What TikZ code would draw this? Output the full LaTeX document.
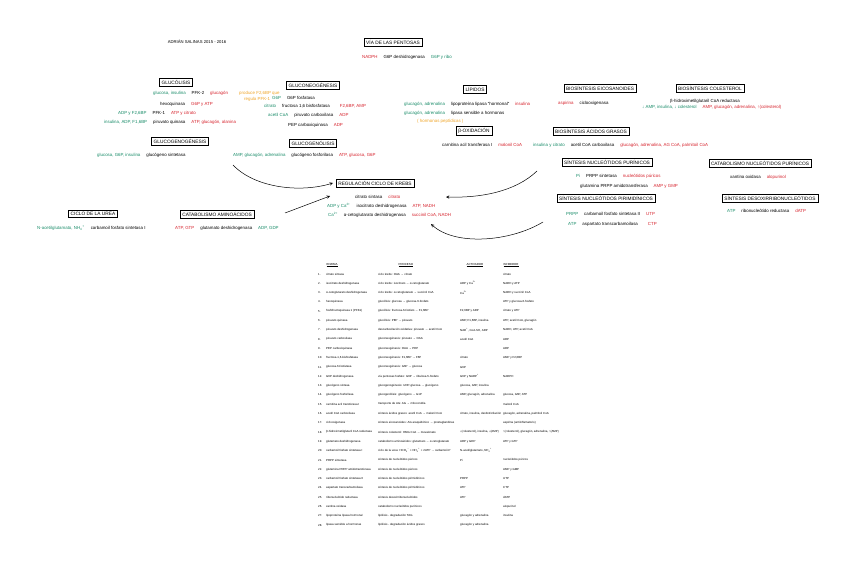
\documentclass[tikz,border=0pt]{standalone}
\usepackage{fontspec}
\setmainfont{Liberation Sans}
\definecolor{gr}{RGB}{25,140,105}
\definecolor{rd}{RGB}{215,35,45}
\definecolor{orng}{RGB}{240,165,40}
\newcommand\tgr[1]{\textcolor{gr}{#1}}
\newcommand\trd[1]{\textcolor{rd}{#1}}
\newcommand\tor[1]{\textcolor{orng}{#1}}
\newcommand\sep{\hspace{6pt}}
\newcommand\trow[5]{%
 \node[tb] (n#1) at (318,{274+9.3*(#1-1)}) {#1.};
 \node[tb] (e#1) at (326,{274+9.3*(#1-1)}) {#2};
 \node[tb] (p#1) at (378,{274+9.3*(#1-1)}) {#3};
 \node[tb] (a#1) at (460,{274+9.3*(#1-1)}) {#4};
 \node[tb] (i#1) at (503,{274+9.3*(#1-1)}) {#5};
}
\begin{document}
\begin{tikzpicture}[x=1pt,y=-1pt,>=stealth,
  box/.style={draw,line width=0.6pt,inner xsep=2.2pt,inner ysep=1.8pt,font=\fontsize{4.8}{5.5}\selectfont},
  row/.style={font=\fontsize{4.4}{5}\selectfont,inner sep=0pt,anchor=west},
  tb/.style={font=\fontsize{2.9}{3.3}\selectfont,inner sep=0pt,anchor=west},
  th/.style={font=\fontsize{2.9}{3.3}\selectfont,inner sep=0.4pt,anchor=west},
  arr/.style={->,line width=0.5pt}]
\fill[white] (0,0) rectangle (848,568);
\useasboundingbox (0,0) rectangle (848,568);

% header
\node[font=\fontsize{4.2}{5}\selectfont,inner sep=0] (author) at (197,42) {ADRIÁN SALINAS 2015 - 2016};
\node[box] (pent) at (393,42) {VÍA DE LAS PENTOSAS};
\node[row] (pent1) at (362,57) {\trd{NADPH}\sep G6P deshidrogenasa\sep\tgr{G6P y ribo}};

% glucolisis
\node[box] (glc) at (176,82) {GLUCÓLISIS};
\node[row] (glc1) at (153,93) {\tgr{glucosa, insulina}\sep PFK-2\sep\trd{glucagón}};
\node[row] (glc1a) at (239,93) {\tor{produce F2,6BP que}};
\node[row] (glc1b) at (244,99) {\tor{regula PFK-1}};
\node[row] (glc2) at (160,104) {hexoquinasa\sep\trd{G6P y ATP}};
\node[row] (glc3) at (118,113) {\tgr{ADP y F2,6BP}\sep PFK-1\sep\trd{ATP y citrato}};
\node[row] (glc4) at (104,122) {\tgr{insulina, ADP, F1,6BP}\sep piruvato quinasa\sep\trd{ATP, glucagón, alanina}};

% gluconeogenesis
\node[box] (gng) at (313,85) {GLUCONEOGÉNESIS};
\node[row] (gng1) at (272,98) {\tgr{G6P}\sep G6P fosfatasa};
\node[row] (gng2) at (264,106) {\tgr{citrato}\sep fructosa 1,6 bisfosfatasa\hspace{10pt}\trd{F2,6BP, AMP}};
\node[row] (gng3) at (268,115) {\tgr{acetil CoA}\sep piruvato carboxilasa\sep\trd{ADP}};
\node[row] (gng4) at (288,125) {PEP carboxiquinasa\sep\trd{ADP}};

% lipidos
\node[box] (lip) at (475,89) {LÍPIDOS};
\node[row] (lip1) at (404,104) {\tgr{glucagón, adrenalina}\sep lipoproteína lipasa ``hormonal''\sep\trd{insulina}};
\node[row] (lip2) at (404,113) {\tgr{glucagón, adrenalina}\sep lipasa sensible a hormonas};
\node[row] (lip3) at (417,121) {\tor{( hormonas peptídicas )}};
\node[box] (box) at (474,131) {β-OXIDACIÓN};
\node[row] (box1) at (442,145) {carnitina acil transferasa I\sep\trd{malonil CoA}};

% biosintesis
\node[box] (eic) at (600,88) {BIOSÍNTESIS EICOSANOIDES};
\node[row] (eic1) at (558,103) {\trd{aspirina}\sep ciclooxigenasa};
\node[box] (col) at (710,88) {BIOSÍNTESIS COLESTEROL};
\node[row] (col1) at (670,101) {β-hidroximetilglutaril CoA reductasa};
\node[row] (col2) at (642,107) {\tgr{↓ AMP, insulina, ↓ colesterol}\sep\trd{AMP, glucagón, adrenalina, ↑(colesterol)}};
\node[box] (agr) at (591,131) {BIOSÍNTESIS ÁCIDOS GRASOS};
\node[row] (agr1) at (533,145) {\tgr{insulina y citrato}\sep acetil CoA carboxilasa\sep\trd{glucagón, adrenalina, AG CoA, palmitoil CoA}};

% nucleotidos
\node[box] (pur) at (607,162) {SÍNTESIS NUCLEÓTIDOS PURÍNICOS};
\node[row] (pur1) at (576,176) {\tgr{Pi}\sep PRPP sintetasa\sep\trd{nucleótidos púricos}};
\node[row] (pur2) at (580,186) {glutamina PRPP amidotransferasa\sep\trd{AMP y GMP}};
\node[box] (pir) at (606,198) {SÍNTESIS NUCLEÓTIDOS PIRIMIDÍNICOS};
\node[row] (pir1) at (566,214) {\tgr{PRPP}\sep carbamoil fosfato sintetasa II\sep\trd{UTP}};
\node[row] (pir2) at (568,224) {\tgr{ATP}\sep aspartato transcarbamoilasa\hspace{10pt}\trd{CTP}};
\node[box] (cat) at (760,163) {CATABOLISMO NUCLEÓTIDOS PURÍNICOS};
\node[row] (cat1) at (730,177) {xantina oxidasa\sep\trd{alopurinol}};
\node[box] (des) at (770,198) {SÍNTESIS DESOXIRRIBONUCLEÓTIDOS};
\node[row] (des1) at (727,211) {\tgr{ATP}\sep ribonucleótido reductasa\sep\trd{dATP}};

% glucogeno
\node[box] (ggn) at (180,141) {GLUCOGENOGÉNESIS};
\node[row] (ggn1) at (97,155) {\tgr{glucosa, G6P, insulina}\sep glucógeno sintetasa};
\node[box] (ggl) at (313,143) {GLUCOGENÓLISIS};
\node[row] (ggl1) at (233,155) {\tgr{AMP, glucagón, adrenalina}\sep glucógeno fosforilasa\sep\trd{ATP, glucosa, G6P}};

% krebs
\node[box] (kre) at (375,183) {REGULACIÓN CICLO DE KREBS};
\node[row] (kre1) at (355,197) {citrato sintasa\sep\trd{citrato}};
\node[row] (kre2) at (327,206) {\tgr{ADP y Ca\textsuperscript{2+}}\sep isocitrato deshidrogenasa\sep\trd{ATP, NADH}};
\node[row] (kre3) at (328,215) {\tgr{Ca\textsuperscript{2+}}\sep α-cetoglutarato deshidrogenasa\sep\trd{succinil CoA, NADH}};

% urea, aminoacidos
\node[box] (ure) at (93,214) {CICLO DE LA UREA};
\node[row] (ure1) at (37,228) {\tgr{N-acetilglutamato, NH\textsubscript{4}\textsuperscript{+}}\sep carbamoil fosfato sintetasa I};
\node[box] (ami) at (217,214) {CATABOLISMO AMINOÁCIDOS};
\node[row] (ami1) at (175,228) {\trd{ATP, GTP}\sep glutamato deshidrogenasa\sep\tgr{ADP, GDP}};

% arrows
\coordinate (a1s) at (233,165);
\coordinate (a1e) at (333,183);
\coordinate (a2s) at (285,213);
\coordinate (a2e) at (330,196);
\coordinate (a3s) at (537,171);
\coordinate (a3e) at (446,197);
\coordinate (a4s) at (543,222);
\coordinate (a4e) at (431,224);
\draw[arr] (a1s) .. controls (255,188) and (300,193) .. (a1e);
\draw[arr] (a2s) -- (a2e);
\draw[arr] (a3s) .. controls (515,192) and (480,198) .. (a3e);
\draw[arr] (a4s) .. controls (510,242) and (455,246) .. (a4e);

% table
\node[th] (h1) at (326,265) {\underline{ENZIMA}};
\node[th] (h2) at (398,265) {\underline{PROCESO}};
\node[th] (h3) at (466,265) {\underline{ACTIVADOR}};
\node[th] (h4) at (503,265) {\underline{INHIBIDOR}};
\trow{1}{citrato sintasa}{ciclo krebs: OAA → citrato}{}{citrato}
\trow{2}{isocitrato deshidrogenasa}{ciclo krebs: isocitrato → α-cetoglutarato}{ADP y Ca\textsuperscript{2+}}{NADH y ATP}
\trow{3}{α-cetoglutarato deshidrogenasa}{ciclo krebs: α-cetoglutarato → succinil CoA}{Ca\textsuperscript{2+}}{NADH y succinil CoA}
\trow{4}{hexoquinasa}{glucólisis: glucosa → glucosa-6-fosfato}{}{ATP y glucosa-6-fosfato}
\trow{5}{fosfofructoquinasa 1 (PFK1)}{glucólisis: fructosa-6-fosfato → F1,6BP}{F2,6BP y ADP}{citrato y ATP}
\trow{6}{piruvato quinasa}{glucólisis: PEP → piruvato}{AMP, F1,6BP, insulina}{ATP, acetil CoA, glucagón}
\trow{7}{piruvato deshidrogenasa}{descarboxilación oxidativa: piruvato → acetil CoA}{NAD\textsuperscript{+}, CoA-SH, ADP}{NADH, ATP, acetil CoA}
\trow{8}{piruvato carboxilasa}{gluconeogénesis: piruvato → OAA}{acetil CoA}{ADP}
\trow{9}{PEP carboxiquinasa}{gluconeogénesis: OAA → PEP}{}{ADP}
\trow{10}{fructosa-1,6-bisfosfatasa}{gluconeogénesis: F1,6BP → F6P}{citrato}{AMP y F2,6BP}
\trow{11}{glucosa-6-fosfatasa}{gluconeogénesis: G6P → glucosa}{G6P}{}
\trow{12}{G6P deshidrogenasa}{vía pentosas fosfato: G6P → ribulosa-5-fosfato}{G6P y NADP\textsuperscript{+}}{NADPH}
\trow{13}{glucógeno sintasa}{glucogenogénesis: UDP-glucosa → glucógeno}{glucosa, G6P, insulina}{}
\trow{14}{glucógeno fosforilasa}{glucogenólisis: glucógeno → G1P}{AMP, glucagón, adrenalina}{glucosa, G6P, ATP}
\trow{15}{carnitina acil transferasa I}{transporte de AG: AG → mitocondria}{}{malonil CoA}
\trow{16}{acetil CoA carboxilasa}{síntesis ácidos grasos: acetil CoA → malonil CoA}{citrato, insulina, desfosforilación}{glucagón, adrenalina, palmitoil CoA}
\trow{17}{ciclooxigenasa}{síntesis eicosanoides: AG araquidónico → prostaglandinas}{}{aspirina (antiinflamatorio)}
\trow{18}{β-hidroximetilglutaril CoA reductasa}{síntesis colesterol: HMG CoA → mevalonato}{↓(colesterol), insulina, ↓(AMP)}{↑(colesterol), glucagón, adrenalina, ↑(AMP)}
\trow{19}{glutamato deshidrogenasa}{catabolismo aminoácidos: glutamato → α-cetoglutarato}{ADP y GDP}{ATP y GTP}
\trow{20}{carbamoil fosfato sintetasa I}{ciclo de la urea: HCO\textsubscript{3}\textsuperscript{−} + NH\textsubscript{4}\textsuperscript{+} + 2ATP → carbamoil-P}{N-acetilglutamato, NH\textsubscript{4}\textsuperscript{+}}{}
\trow{21}{PRPP sintetasa}{síntesis de nucleótidos púricos}{Pi}{nucleótidos púricos}
\trow{22}{glutamina PRPP amidotransferasa}{síntesis de nucleótidos púricos}{}{AMP y GMP}
\trow{23}{carbamoil fosfato sintetasa II}{síntesis de nucleótidos pirimidínicos}{PRPP}{UTP}
\trow{24}{aspartato transcarbamoilasa}{síntesis de nucleótidos pirimidínicos}{ATP}{CTP}
\trow{25}{ribonucleótido reductasa}{síntesis desoxirribonucleótidos}{ATP}{dATP}
\trow{26}{xantina oxidasa}{catabolismo nucleótidos purínicos}{}{alopurinol}
\trow{27}{lipoproteína lipasa hormonal}{lipólisis - degradación TAG}{glucagón y adrenalina}{insulina}
\trow{28}{lipasa sensible a hormonas}{lipólisis - degradación ácidos grasos}{glucagón y adrenalina}{}
\end{tikzpicture}
\end{document}
